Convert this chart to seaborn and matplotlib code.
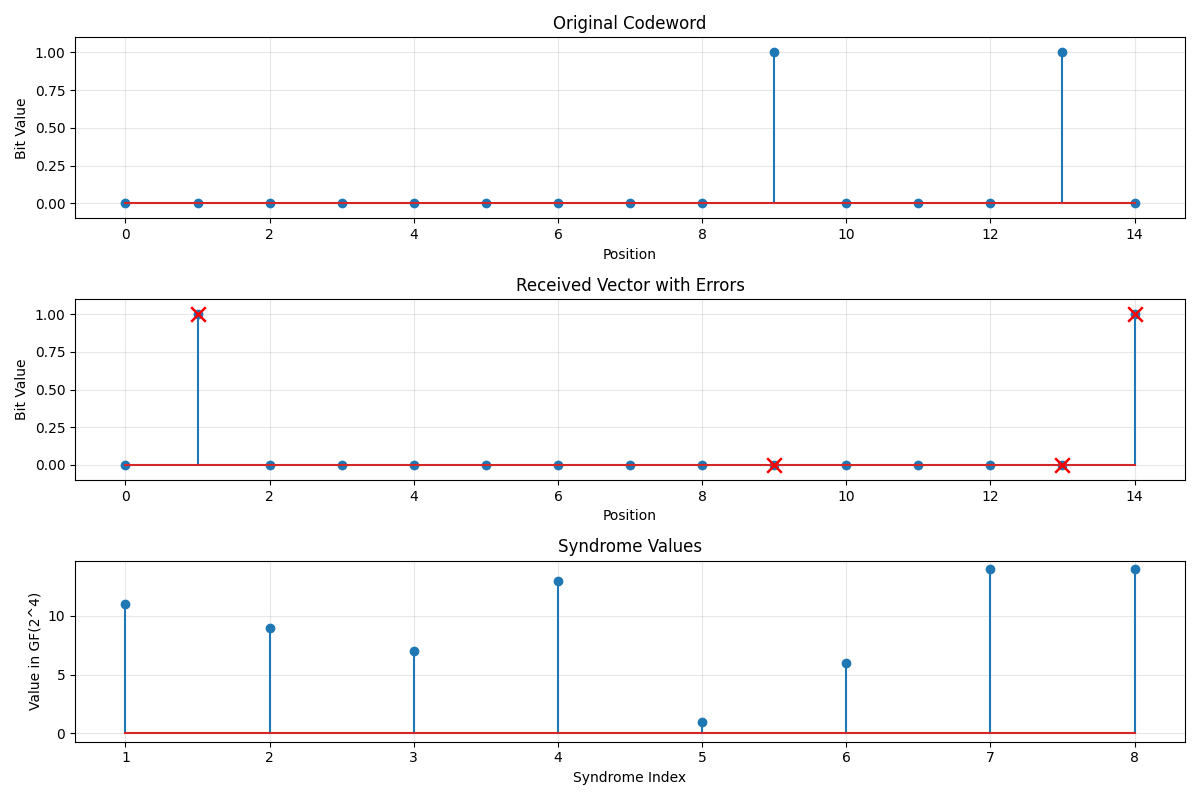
import matplotlib
matplotlib.use("Agg")
import matplotlib.pyplot as plt
import seaborn as sns
import numpy as np
import pandas as pd

positions = list(range(15))
original = [0, 0, 0, 0, 0, 0, 0, 0, 0, 1, 0, 0, 0, 1, 0]
received = [0, 1, 0, 0, 0, 0, 0, 0, 0, 0, 0, 0, 0, 0, 1]
error_positions = [1, 9, 13, 14]
syndrome_index = [1, 2, 3, 4, 5, 6, 7, 8]
syndrome_values = [11, 9, 7, 13, 1, 6, 14, 14]
bit_ticks = [0.0, 0.25, 0.5, 0.75, 1.0]

fig, axes = plt.subplots(3, 1, figsize=(12, 8), dpi=100)

ax = axes[0]
ax.stem(positions, original, basefmt='C3-')
ax.set_title('Original Codeword')
ax.set_xlabel('Position')
ax.set_ylabel('Bit Value')
ax.set_ylim(-0.1, 1.1)
ax.set_yticks(bit_ticks)
ax.grid(True, alpha=0.3)

ax = axes[1]
ax.stem(positions, received, basefmt='C3-')
err_df = pd.DataFrame({'pos': error_positions,
                       'val': [received[p] for p in error_positions]})
sns.scatterplot(data=err_df, x='pos', y='val', ax=ax, marker='x', color='red',
                s=110, linewidth=1.8, zorder=5, legend=False)
ax.set_title('Received Vector with Errors')
ax.set_xlabel('Position')
ax.set_ylabel('Bit Value')
ax.set_ylim(-0.1, 1.1)
ax.set_yticks(bit_ticks)
ax.grid(True, alpha=0.3)

ax = axes[2]
ax.stem(syndrome_index, syndrome_values, basefmt='C3-')
ax.set_title('Syndrome Values')
ax.set_xlabel('Syndrome Index')
ax.set_ylabel('Value in GF(2^4)')
ax.grid(True, alpha=0.3)

plt.tight_layout()
plt.savefig('out.png', dpi=100)
